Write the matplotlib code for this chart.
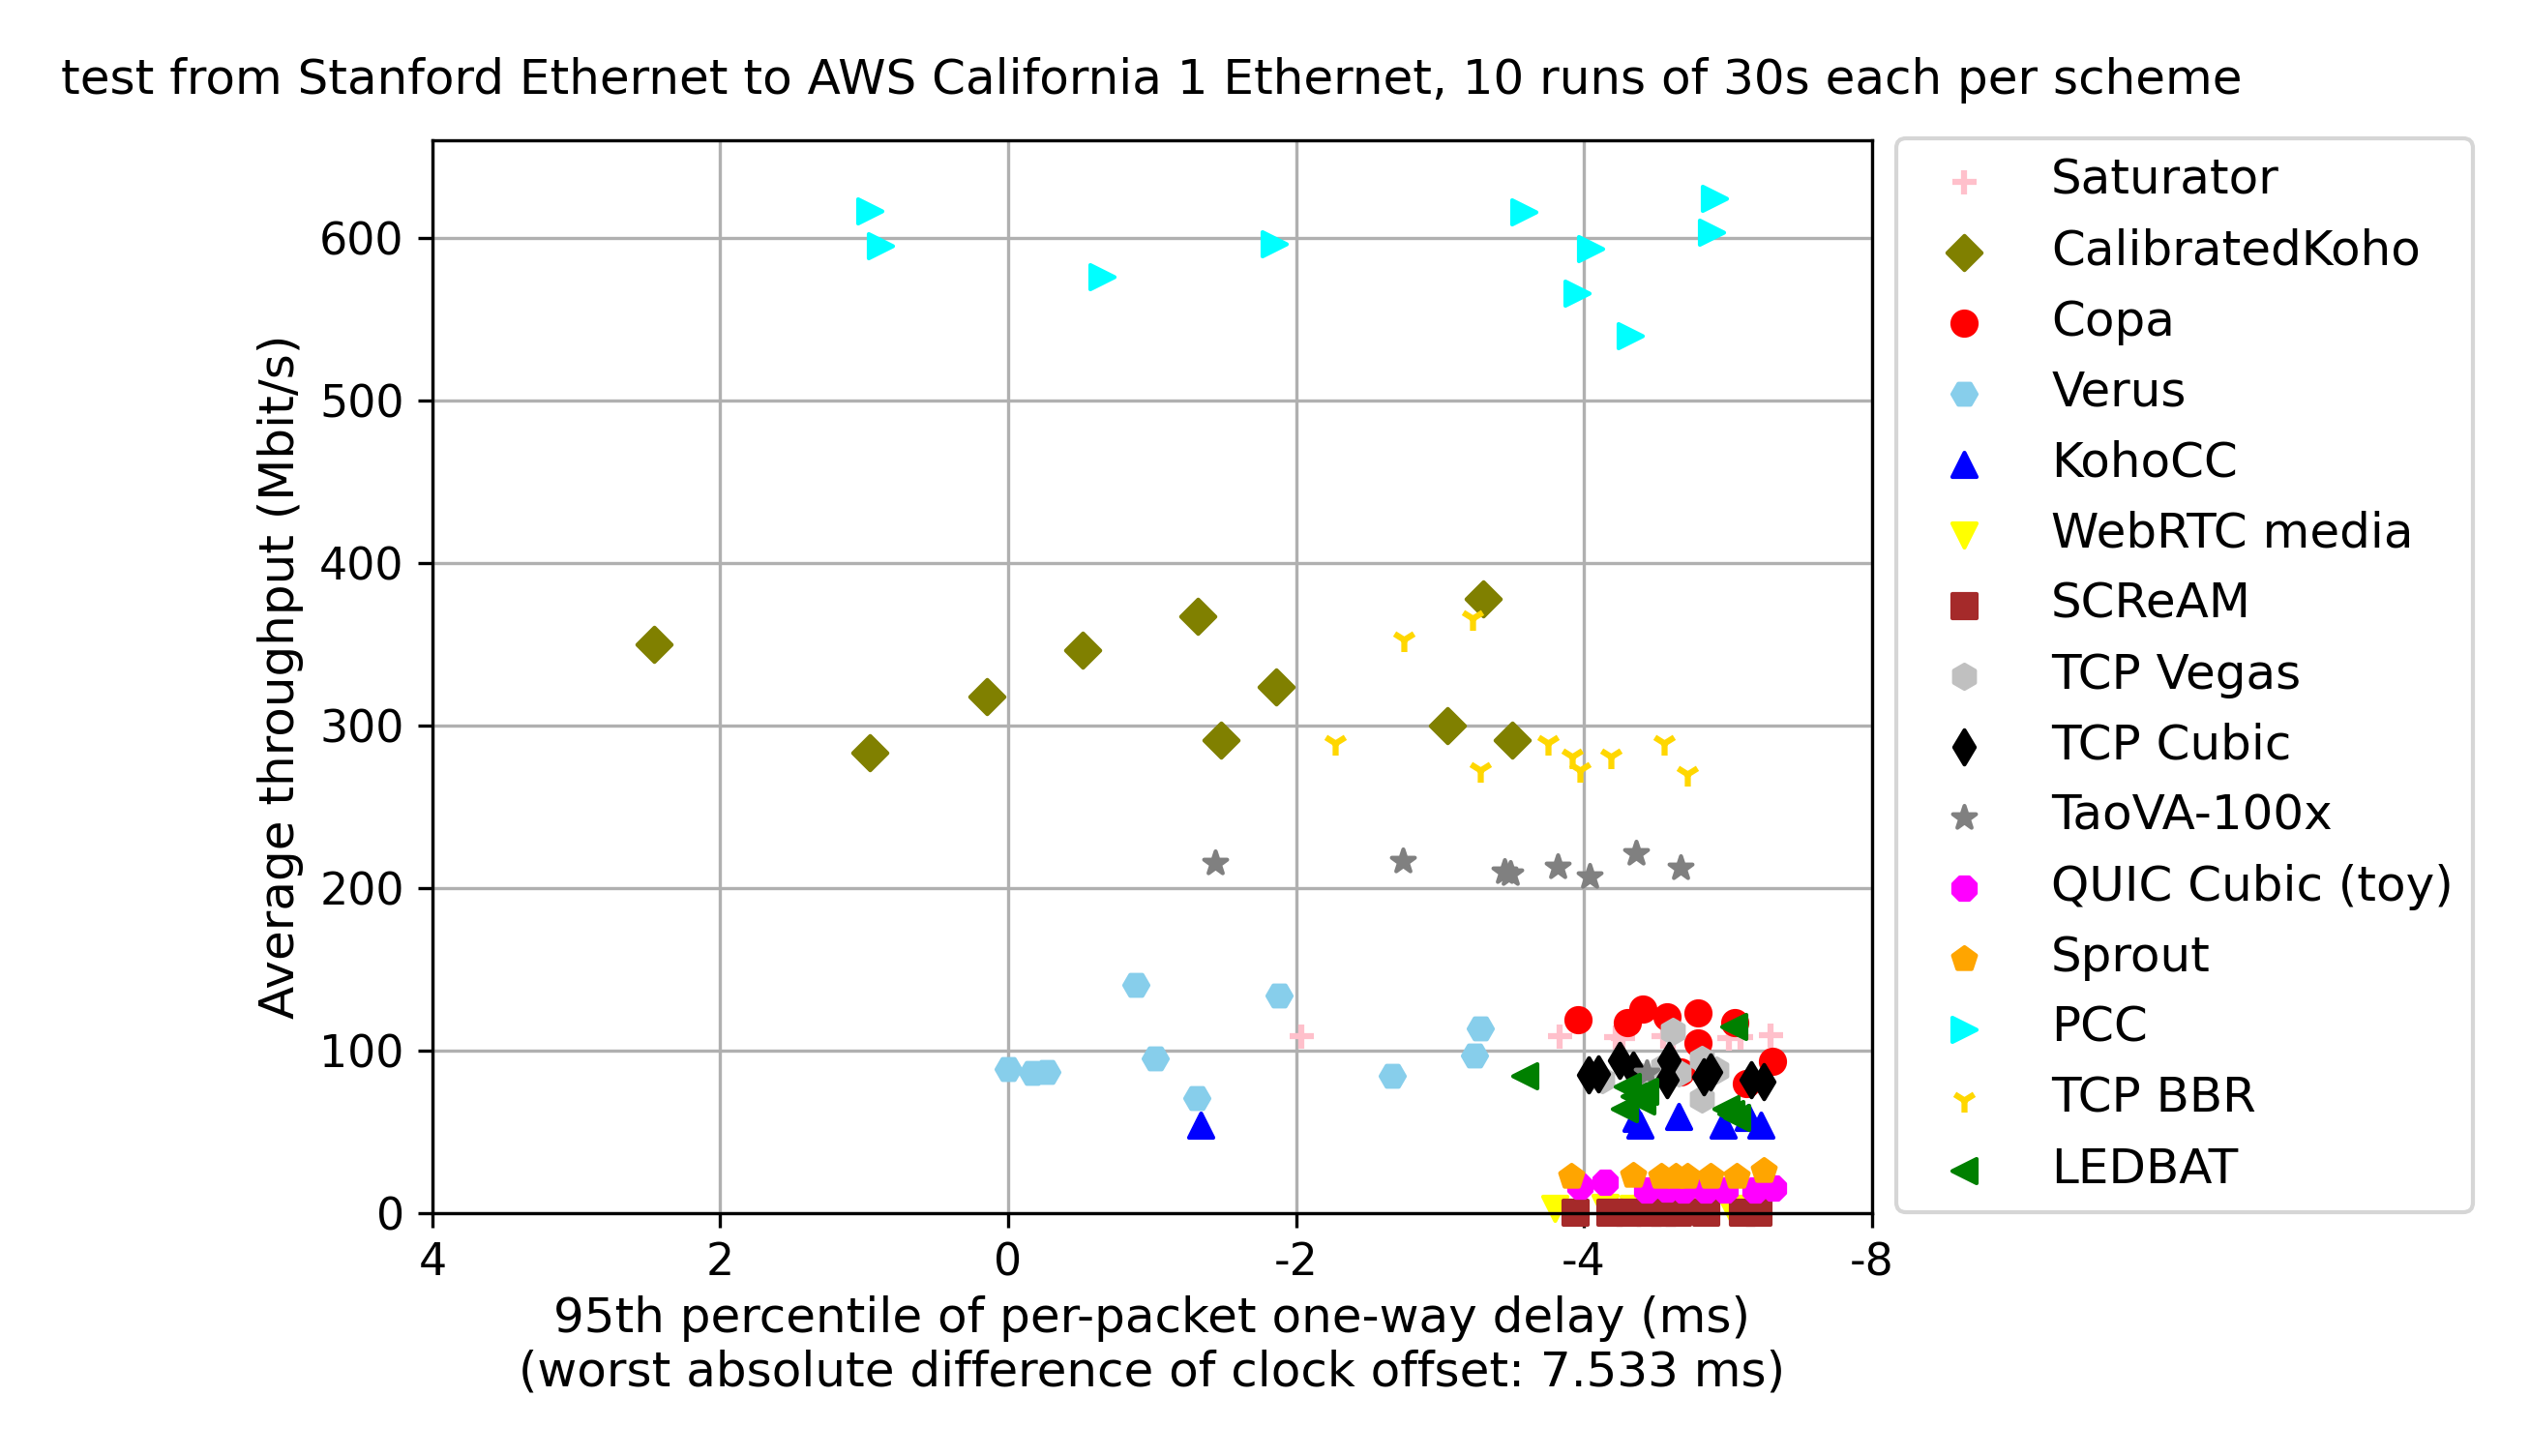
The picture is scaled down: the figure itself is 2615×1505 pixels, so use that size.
import matplotlib
matplotlib.use('Agg')
import matplotlib.pyplot as plt

# per-scheme data: x = 95th percentile one-way delay (ms), y = throughput (Mbit/s)
saturator_x = [-2.04, -3.83, -4.22, -4.27, -4.55, -4.62, -5.01, -5.09, -5.30]
saturator_y = [108.6, 108.7, 108.1, 107.5, 108.7, 108.0, 107.6, 108.1, 109.2]

calkoho_x = [2.46, 0.96, 0.15, -0.52, -1.32, -1.48, -1.86, -3.05, -3.30, -3.50]
calkoho_y = [349.7, 283.0, 317.8, 346.3, 367.3, 290.9, 323.7, 299.7, 377.9, 290.9]

copa_x = [-3.96, -4.41, -4.30, -4.58, -4.79, -4.79, -5.05, -5.31, -5.13, -4.67]
copa_y = [119.1, 125.6, 117.3, 120.6, 123.2, 104.8, 117.3, 93.5, 79.6, 86.9]

verus_x = [-0.89, -1.88, -3.28, -3.24, -1.02, 0.0, -0.17, -0.27, -2.67, -1.31]
verus_y = [140.3, 134.0, 113.6, 97.1, 95.1, 88.8, 86.2, 86.6, 84.4, 71.0]

kohocc_x = [-1.34, -4.36, -4.39, -4.66, -4.97, -5.23, -5.14]
kohocc_y = [54.1, 58.2, 54.2, 59.7, 54.2, 54.2, 59.0]

webrtc_x = [-3.80, -4.15, -4.34, -4.62, -4.80, -5.02]
webrtc_y = [3.0, 3.5, 3.0, 3.2, 3.0, 3.0]

scream_x = [-3.94, -4.18, -4.31, -4.45, -4.55, -4.65, -4.85, -5.10, -5.21]
scream_y = [0.8, 0.8, 0.8, 0.8, 0.8, 0.8, 0.8, 0.8, 0.8]

vegas_x = [-4.62, -4.82, -4.82, -4.13, -4.40, -4.66, -4.92, -4.55]
vegas_y = [111.7, 94.9, 70.1, 82.0, 84.0, 86.0, 88.0, 90.0]

cubic_x = [-4.03, -4.10, -4.25, -4.34, -4.59, -4.58, -4.83, -4.88, -5.16, -5.25]
cubic_y = [85.3, 85.9, 93.9, 87.9, 93.9, 82.0, 83.9, 87.0, 82.0, 81.0]

taova_x = [-1.44, -2.74, -3.45, -3.49, -3.82, -4.04, -4.36, -4.67, -4.44]
taova_y = [215.7, 216.7, 210.1, 209.1, 213.3, 207.3, 221.2, 212.3, 86.0]

quic_x = [-3.97, -4.15, -4.44, -4.58, -4.69, -4.85, -4.98, -5.19, -5.32]
quic_y = [16.5, 18.9, 14.5, 14.9, 14.5, 14.5, 14.5, 14.5, 15.5]

sprout_x = [-3.91, -4.34, -4.54, -4.64, -4.72, -4.88, -5.06, -5.25]
sprout_y = [22.8, 23.4, 22.4, 22.8, 22.8, 22.4, 22.4, 26.0]

pcc_x = [0.96, 0.89, -0.65, -1.85, -3.58, -4.05, -3.95, -4.32, -4.91, -4.89]
pcc_y = [616.8, 595.2, 576.3, 596.0, 615.7, 593.4, 566.2, 539.9, 624.5, 603.7]

bbr_x = [-2.75, -3.23, -2.27, -3.28, -3.75, -3.92, -3.97, -4.19, -4.56, -4.72]
bbr_y = [352.9, 365.7, 289.1, 272.6, 289.1, 280.9, 272.6, 280.9, 289.1, 269.9]

ledbat_x = [-3.59, -5.04, -4.30, -4.42, -4.28, -4.40, -4.99, -5.06, -4.35, -5.02]
ledbat_y = [84.5, 115.1, 78.0, 75.0, 64.1, 69.1, 64.1, 59.1, 72.0, 61.0]

schemes = ['Saturator', 'CalibratedKoho', 'Copa', 'Verus', 'KohoCC', 'WebRTC media',
           'SCReAM', 'TCP Vegas', 'TCP Cubic', 'TaoVA-100x', 'QUIC Cubic (toy)',
           'Sprout', 'PCC', 'TCP BBR', 'LEDBAT']
colors = ['pink', 'olive', 'red', 'skyblue', 'blue', 'yellow', 'brown', 'silver',
          'black', 'gray', 'magenta', 'orange', 'cyan', 'gold', 'green']
markers = ['+', 'D', 'o', 'H', '^', 'v', 's', 'h', 'd', '*', '8', 'p', '>', '1', '<']
xs = [saturator_x, calkoho_x, copa_x, verus_x, kohocc_x, webrtc_x, scream_x, vegas_x,
      cubic_x, taova_x, quic_x, sprout_x, pcc_x, bbr_x, ledbat_x]
ys = [saturator_y, calkoho_y, copa_y, verus_y, kohocc_y, webrtc_y, scream_y, vegas_y,
      cubic_y, taova_y, quic_y, sprout_y, pcc_y, bbr_y, ledbat_y]

xticks = [4, 2, 0, -2, -4, -6]
xtick_labels = ['4', '2', '0', '-2', '-4', '-8']

fig = plt.figure(figsize=(2615 / 300, 1505 / 300), dpi=300)
ax = fig.add_axes([0.1709, 0.1668, 0.5689, 0.9037 - 0.1668])

for name, c, m, x, y in zip(schemes, colors, markers, xs, ys):
    ax.scatter(x, y, color=c, marker=m, label=name, clip_on=False)

ax.set_xlim(4, -6)
ax.set_ylim(0, 660)
ax.set_xticks(xticks)
ax.set_xticklabels(xtick_labels)
ax.tick_params(labelsize=11)
ax.grid()
ax.set_axisbelow(True)

ax.set_xlabel('95th percentile of per-packet one-way delay (ms)\n'
              '(worst absolute difference of clock offset: 7.533 ms)',
              fontsize=12, labelpad=2.5)
ax.set_ylabel('Average throughput (Mbit/s)', fontsize=12)
ax.set_title('test from Stanford Ethernet to AWS California 1 Ethernet, '
             '10 runs of 30s each per scheme', fontsize=12, pad=11.5)

ax.legend(scatterpoints=1, loc='upper left', bbox_to_anchor=(1.0172, 1.002),
          borderaxespad=0, fontsize=12)

fig.savefig('out.png', dpi=300)
